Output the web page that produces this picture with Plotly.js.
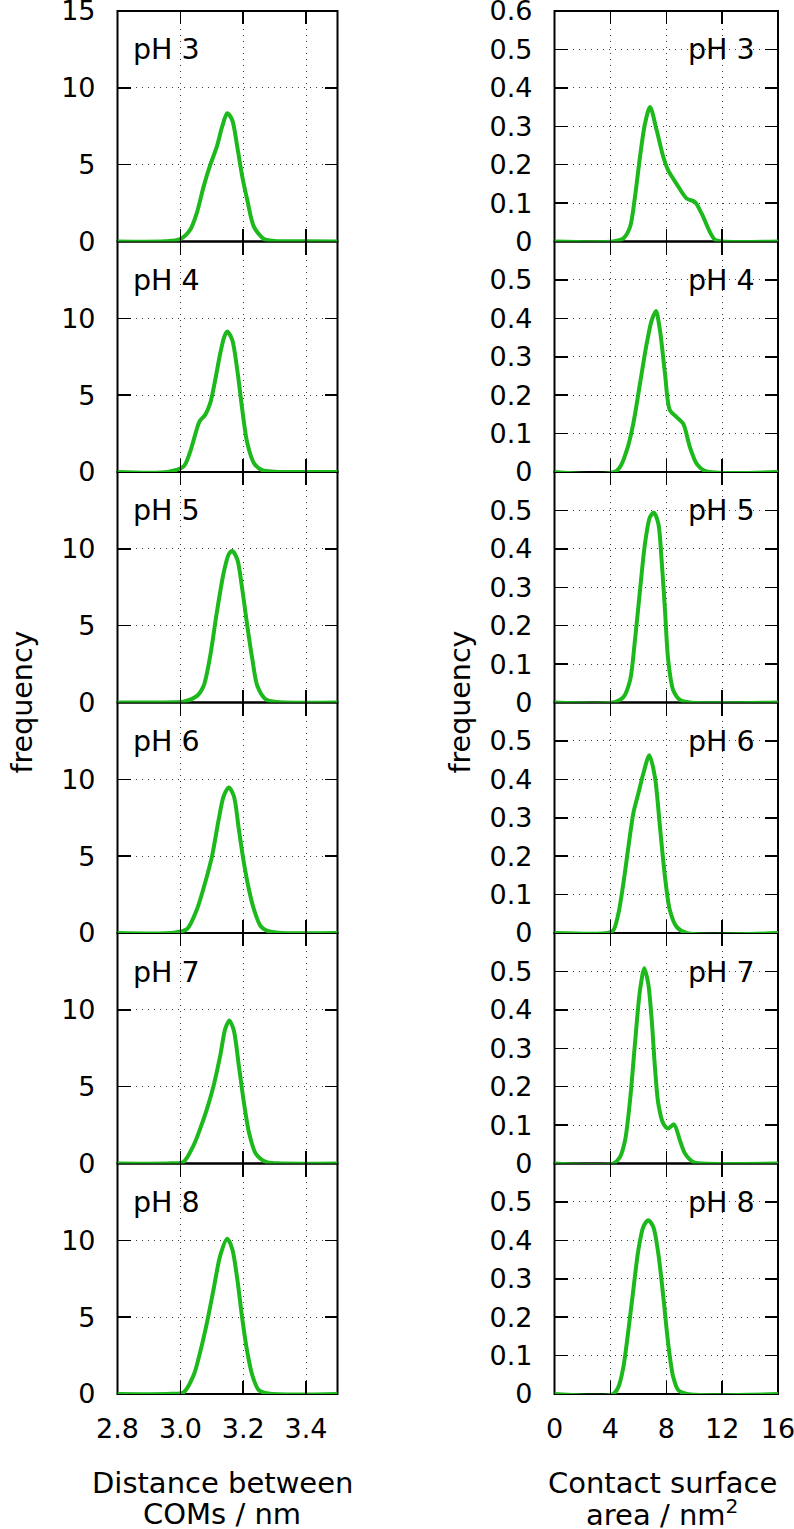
<!DOCTYPE html>
<html>
<head>
<meta charset="utf-8">
<script src="https://cdn.plot.ly/plotly-3.0.1.min.js"></script>
<style>
  html, body { margin: 0; padding: 0; background: #ffffff; }
  #chart { width: 794px; height: 1529px; }
</style>
</head>
<body>
<div id="chart"></div>
<script>
// ---- Data: distance between centres of mass (nm) vs frequency ----
const distX_pH3 = [2.8, 2.95, 3.0, 3.031, 3.052, 3.074, 3.095, 3.116, 3.133, 3.149, 3.165, 3.181, 3.197, 3.213, 3.234, 3.266, 3.3, 3.4, 3.5];
const distY_pH3 = [0, 0.01, 0.16, 0.75, 1.83, 3.57, 4.98, 6.17, 7.47, 8.34, 7.9, 6.17, 4.22, 2.70, 0.96, 0.16, 0.04, 0.01, 0];
const distX_pH4 = [2.8, 2.96, 3.01, 3.031, 3.047, 3.061, 3.079, 3.095, 3.111, 3.127, 3.14, 3.149, 3.165, 3.181, 3.197, 3.213, 3.235, 3.26, 3.3, 3.5];
const distY_pH4 = [0, 0.01, 0.36, 1.3, 2.42, 3.29, 3.72, 4.48, 6.0, 7.73, 8.82, 9.14, 8.6, 6.65, 4.05, 1.88, 0.55, 0.12, 0.02, 0];
const distX_pH5 = [2.8, 2.98, 3.01, 3.053, 3.074, 3.095, 3.116, 3.138, 3.154, 3.165, 3.181, 3.197, 3.213, 3.229, 3.245, 3.272, 3.31, 3.5];
const distY_pH5 = [0, 0.01, 0.05, 0.43, 1.08, 3.03, 5.86, 8.46, 9.65, 9.86, 9.32, 7.37, 4.98, 2.82, 1.08, 0.21, 0.03, 0];
const distX_pH6 = [2.8, 2.98, 3.021, 3.053, 3.079, 3.101, 3.122, 3.138, 3.154, 3.17, 3.186, 3.202, 3.218, 3.234, 3.255, 3.275, 3.31, 3.5];
const distY_pH6 = [0, 0.02, 0.25, 1.55, 3.29, 5.02, 7.4, 8.92, 9.47, 8.92, 6.75, 4.59, 2.85, 1.55, 0.46, 0.15, 0.02, 0];
const distX_pH7 = [2.8, 2.97, 3.01, 3.042, 3.063, 3.085, 3.106, 3.127, 3.143, 3.156, 3.17, 3.186, 3.202, 3.218, 3.24, 3.272, 3.31, 3.5];
const distY_pH7 = [0, 0.01, 0.1, 1.18, 2.26, 3.57, 5.08, 7.03, 8.77, 9.31, 8.66, 6.38, 4.0, 2.05, 0.64, 0.1, 0.01, 0];
const distX_pH8 = [2.8, 2.97, 3.01, 3.042, 3.063, 3.085, 3.106, 3.127, 3.149, 3.165, 3.181, 3.197, 3.213, 3.229, 3.25, 3.28, 3.5];
const distY_pH8 = [0, 0.01, 0.1, 1.21, 2.73, 4.68, 6.85, 9.02, 10.1, 9.45, 7.5, 4.9, 2.73, 1.21, 0.24, 0.03, 0];

// ---- Data: contact surface area (nm^2) vs frequency ----
const areaX_pH3 = [0, 4.2, 4.93, 5.41, 5.76, 6.12, 6.48, 6.84, 7.31, 7.79, 8.14, 8.74, 9.46, 10.05, 10.53, 11.12, 11.48, 12, 16];
const areaY_pH3 = [0, 0, 0.008, 0.038, 0.116, 0.22, 0.307, 0.35, 0.29, 0.22, 0.185, 0.15, 0.112, 0.103, 0.073, 0.025, 0.005, 0, 0];
const areaX_pH4 = [0, 4.45, 5.17, 5.64, 6.12, 6.6, 6.96, 7.26, 7.55, 7.91, 8.26, 8.74, 9.21, 9.69, 10.17, 10.76, 16];
const areaY_pH4 = [0, 0.003, 0.056, 0.126, 0.23, 0.334, 0.395, 0.419, 0.369, 0.256, 0.161, 0.143, 0.126, 0.065, 0.022, 0.003, 0];
const areaX_pH5 = [0, 4.21, 4.93, 5.41, 5.76, 6.12, 6.48, 6.84, 7.12, 7.43, 7.67, 7.91, 8.14, 8.5, 8.98, 9.7, 16];
const areaY_pH5 = [0, 0, 0.014, 0.058, 0.162, 0.292, 0.414, 0.483, 0.494, 0.466, 0.37, 0.24, 0.11, 0.032, 0.007, 0, 0];
const areaX_pH6 = [0, 3.8, 4.21, 4.57, 4.93, 5.29, 5.64, 6.0, 6.36, 6.79, 7.19, 7.55, 7.91, 8.26, 8.74, 9.45, 16];
const areaY_pH6 = [0, 0, 0.007, 0.05, 0.129, 0.224, 0.311, 0.363, 0.415, 0.463, 0.406, 0.276, 0.146, 0.059, 0.016, 0, 0];
const areaX_pH7 = [0, 4.21, 4.69, 5.05, 5.41, 5.76, 6.12, 6.43, 6.71, 6.96, 7.19, 7.43, 7.79, 8.14, 8.55, 8.98, 9.34, 9.93, 10.6, 16];
const areaY_pH7 = [0, 0, 0.017, 0.06, 0.165, 0.312, 0.451, 0.508, 0.468, 0.373, 0.251, 0.156, 0.104, 0.091, 0.102, 0.06, 0.026, 0.004, 0, 0];
const areaX_pH8 = [0, 4.21, 4.57, 4.93, 5.29, 5.64, 6.0, 6.36, 6.71, 7.07, 7.43, 7.79, 8.14, 8.5, 8.86, 9.5, 16];
const areaY_pH8 = [0, 0, 0.018, 0.07, 0.166, 0.27, 0.374, 0.435, 0.452, 0.435, 0.366, 0.253, 0.131, 0.044, 0.01, 0, 0];

// ---- Labels and ticks ----
const phLabels = ['pH 3', 'pH 4', 'pH 5', 'pH 6', 'pH 7', 'pH 8'];
const distTicks = [2.8, 3.0, 3.2, 3.4];
const distTickText = ['2.8', '3.0', '3.2', '3.4'];
const areaTicks = [0, 4, 8, 12, 16];
const freqTicksDist = [0, 5, 10, 15];
const freqTicksArea = [0, 0.1, 0.2, 0.3, 0.4, 0.5, 0.6];
const distTitleLines = ['Distance between', 'COMs / nm'];
const areaTitleLines = ['Contact surface', 'area / nm<sup>2</sup>'];
const freqTitle = 'frequency';

const distSeries = [
  [distX_pH3, distY_pH3], [distX_pH4, distY_pH4], [distX_pH5, distY_pH5],
  [distX_pH6, distY_pH6], [distX_pH7, distY_pH7], [distX_pH8, distY_pH8]
];
const areaSeries = [
  [areaX_pH3, areaY_pH3], [areaX_pH4, areaY_pH4], [areaX_pH5, areaY_pH5],
  [areaX_pH6, areaY_pH6], [areaX_pH7, areaY_pH7], [areaX_pH8, areaY_pH8]
];

// ---- Geometry (pixels) ----
const W = 794, H = 1529;
const FONT = 'DejaVu Sans, Liberation Sans, sans-serif';
const TICK_FS = 27;
const LABEL_FS = 28.5;
const TITLE_FS = 29;
const GREEN = '#1cb81c';
const colL = [117.5, 337.5];
const colR = [554.5, 778];
const rowTop = 11, rowH = 230.5;

const px2x = p => p / W;
const px2y = p => 1 - p / H;

const traces = [];
const layout = {
  width: W, height: H,
  margin: { l: 0, r: 0, t: 0, b: 0, pad: 0 },
  paper_bgcolor: '#ffffff',
  plot_bgcolor: 'rgba(0,0,0,0)',
  showlegend: false,
  font: { family: FONT, size: LABEL_FS, color: '#000000' },
  shapes: [],
  annotations: []
};

function addPanel(idx, col, row, series, isDist) {
  const n = idx === 1 ? '' : String(idx);
  const xa = 'xaxis' + n, ya = 'yaxis' + n;
  const top = rowTop + rowH * row;
  const bot = top + rowH;
  const xd = [px2x(col[0]), px2x(col[1])];
  const yd = [px2y(bot), px2y(top)];

  traces.push({
    type: 'scatter', mode: 'lines',
    x: series[0], y: series[1],
    xaxis: 'x' + n, yaxis: 'y' + n,
    line: { color: GREEN, width: 4, shape: 'spline', smoothing: 0.8 },
    hoverinfo: 'skip'
  });

  const common = {
    showline: false, zeroline: false,
    ticks: 'inside', ticklen: 13, tickwidth: 1.5, tickcolor: '#000000',
    mirror: 'ticks',
    showgrid: true, gridcolor: '#3a3a3a', gridwidth: 1, griddash: '1px,5px',
    tickfont: { family: FONT, size: TICK_FS, color: '#000000' },
    ticklabeloverflow: 'allow',
    fixedrange: true
  };

  layout[xa] = Object.assign({}, common, {
    domain: xd, anchor: 'y' + n,
    range: isDist ? [2.8, 3.5] : [0, 16],
    tickmode: 'array',
    tickvals: isDist ? distTicks : areaTicks,
    ticktext: isDist ? distTickText : areaTicks.map(String),
    showticklabels: row === 5,
    ticklabelstandoff: 16
  });

  const yTicks = isDist ? freqTicksDist : freqTicksArea;
  const shownTicks = row === 0 ? yTicks : yTicks.slice(0, -1);
  layout[ya] = Object.assign({}, common, {
    domain: yd, anchor: 'x' + n,
    range: isDist ? [0, 15] : [0, 0.6],
    tickmode: 'array',
    tickvals: shownTicks,
    ticktext: shownTicks.map(String),
    ticklabelstandoff: 21
  });

  // panel frame
  layout.shapes.push({
    type: 'rect', xref: 'paper', yref: 'paper', layer: 'below',
    x0: xd[0], x1: xd[1], y0: yd[0], y1: yd[1],
    line: { color: '#000000', width: 2 }, fillcolor: 'rgba(0,0,0,0)'
  });

  // pH label
  layout.annotations.push({
    xref: 'paper', yref: 'paper',
    x: isDist ? px2x(131) : px2x(757),
    xanchor: isDist ? 'left' : 'right',
    y: px2y(top + 39), yanchor: 'middle',
    text: phLabels[row], showarrow: false,
    font: { family: FONT, size: LABEL_FS, color: '#000000' }
  });
}

for (let r = 0; r < 6; r++) addPanel(r + 1, colL, r, distSeries[r], true);
for (let r = 0; r < 6; r++) addPanel(r + 7, colR, r, areaSeries[r], false);

const colMid = (rowTop + rowTop + rowH * 6) / 2;
const titleFont = { family: FONT, size: TITLE_FS, color: '#000000' };
const labelFont = { family: FONT, size: LABEL_FS, color: '#000000' };
layout.annotations.push(
  { xref: 'paper', yref: 'paper', x: px2x(22), y: px2y(colMid), xanchor: 'center', yanchor: 'middle',
    text: freqTitle, textangle: -90, showarrow: false, font: labelFont },
  { xref: 'paper', yref: 'paper', x: px2x(460), y: px2y(colMid), xanchor: 'center', yanchor: 'middle',
    text: freqTitle, textangle: -90, showarrow: false, font: labelFont },
  { xref: 'paper', yref: 'paper', x: px2x(222), y: px2y(1483), xanchor: 'center', yanchor: 'middle',
    text: distTitleLines[0], showarrow: false, font: titleFont },
  { xref: 'paper', yref: 'paper', x: px2x(222), y: px2y(1514), xanchor: 'center', yanchor: 'middle',
    text: distTitleLines[1], showarrow: false, font: titleFont },
  { xref: 'paper', yref: 'paper', x: px2x(662), y: px2y(1483), xanchor: 'center', yanchor: 'middle',
    text: areaTitleLines[0], showarrow: false, font: titleFont },
  { xref: 'paper', yref: 'paper', x: px2x(662), y: px2y(1513), xanchor: 'center', yanchor: 'middle',
    text: areaTitleLines[1], showarrow: false, font: titleFont }
);

Plotly.newPlot('chart', traces, layout, { staticPlot: true, displayModeBar: false });
</script>
</body>
</html>
